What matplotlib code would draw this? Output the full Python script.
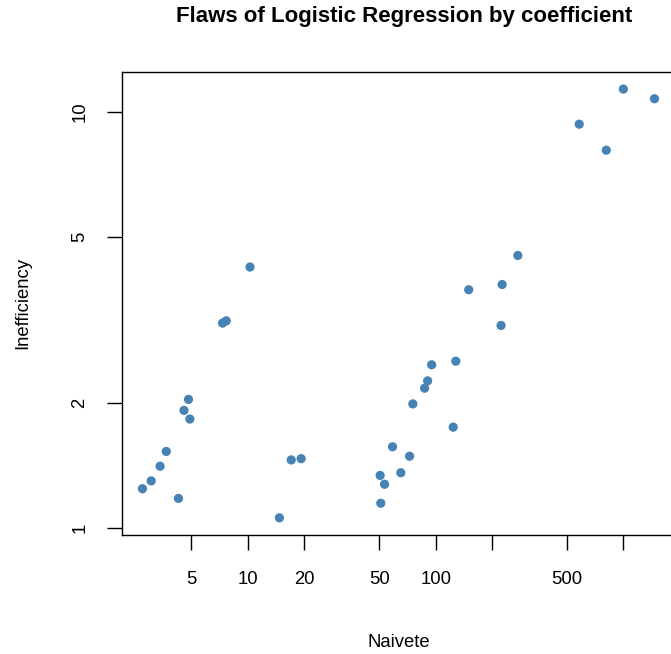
import matplotlib
matplotlib.use("Agg")
import matplotlib.pyplot as plt
from matplotlib.ticker import FixedLocator, FixedFormatter, NullLocator

plt.rcParams["font.family"] = ["Liberation Sans", "DejaVu Sans"]

# Naivete (x) vs Inefficiency (y) (log-log)
naivete = [10.25, 7.32, 7.66, 4.82, 4.56, 4.90, 3.67, 3.40, 3.05, 2.74,
           4.26, 17.0, 19.2, 14.7, 274, 226, 150, 223, 128, 95.2,
           90.6, 87.3, 75.6, 124, 58.9, 72.6, 65.2, 50.6, 53.4, 51.0,
           1000, 1465, 582, 811]
inefficiency = [4.24, 3.11, 3.15, 2.04, 1.92, 1.83, 1.53, 1.41, 1.30, 1.245,
                1.18, 1.46, 1.47, 1.06, 4.52, 3.85, 3.74, 3.07, 2.52, 2.47,
                2.26, 2.17, 1.99, 1.75, 1.57, 1.49, 1.36, 1.34, 1.276, 1.149,
                11.34, 10.75, 9.34, 8.09]

x_ticks = [5, 10, 20, 50, 100, 200, 500, 1000]
x_labels = ["5", "10", "20", "50", "100", "", "500", ""]
y_ticks = [1, 2, 5, 10]
y_labels = ["1", "2", "5", "10"]

fig = plt.figure(figsize=(6.71, 6.54), dpi=100)
ax = fig.add_axes([0.1818, 0.1820, 0.8241, 0.7080])

ax.scatter(naivete, inefficiency, s=44, color="#4682B4", edgecolors="none", zorder=3)
ax.set_xscale("log")
ax.set_yscale("log")
ax.margins(0.04)

ax.xaxis.set_major_locator(FixedLocator(x_ticks))
ax.xaxis.set_major_formatter(FixedFormatter(x_labels))
ax.xaxis.set_minor_locator(NullLocator())
ax.yaxis.set_major_locator(FixedLocator(y_ticks))
ax.yaxis.set_major_formatter(FixedFormatter(y_labels))
ax.yaxis.set_minor_locator(NullLocator())

ax.tick_params(axis="both", direction="out", length=10.8, width=1.0,
               labelsize=13.3, colors="black")
ax.tick_params(axis="x", pad=15.5)
ax.tick_params(axis="y", pad=13.5)
for lbl in ax.get_yticklabels():
    lbl.set_rotation(90)
    lbl.set_va("center")

for sp in ax.spines.values():
    sp.set_linewidth(1.0)
    sp.set_color("black")

ax.set_xlabel("Naivete", fontsize=13.3, labelpad=33)
ax.set_ylabel("Inefficiency", fontsize=13.3, labelpad=29)
fig.text(0.6028, 0.975, "Flaws of Logistic Regression by coefficient",
         ha="center", va="center", fontsize=16, fontweight="bold")

fig.savefig("out.png", dpi=100)
